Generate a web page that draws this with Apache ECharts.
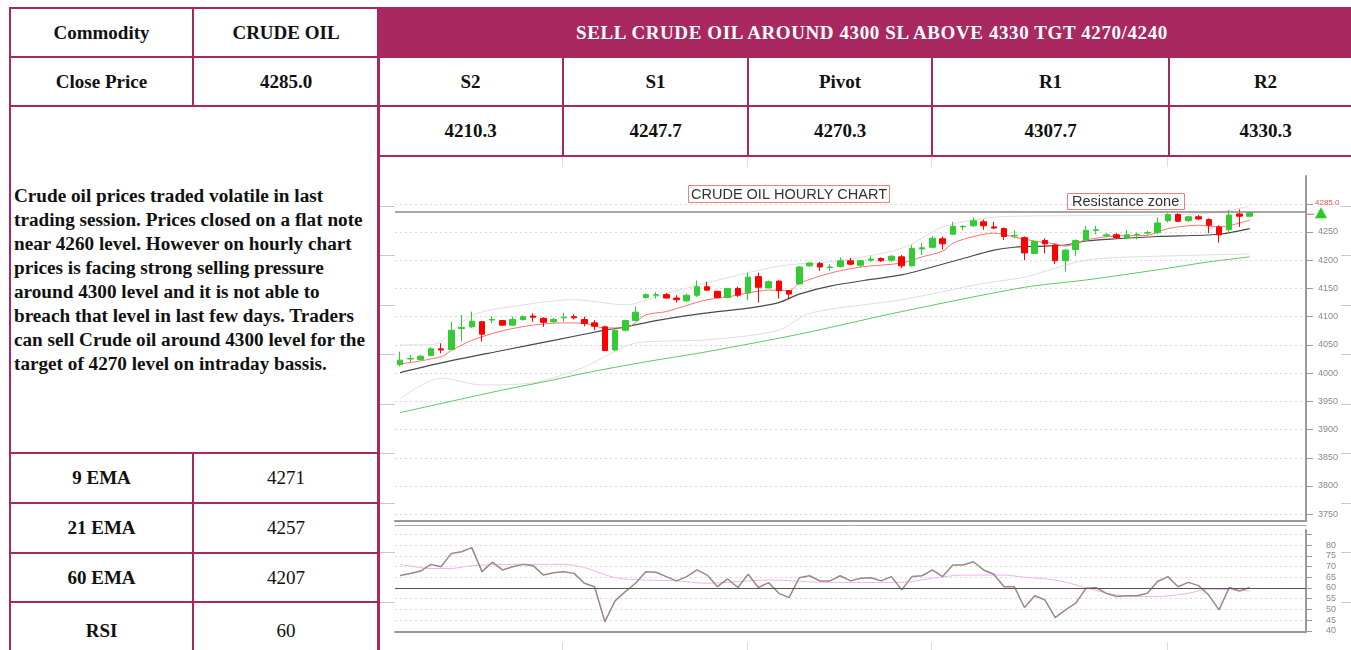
<!DOCTYPE html>
<html>
<head>
<meta charset="utf-8">
<script src="https://cdn.jsdelivr.net/npm/echarts@6/dist/echarts.min.js"></script>
<style>
html, body { margin: 0; padding: 0; width: 1351px; height: 650px; overflow: hidden; background: #fff; }
.c {
    position: absolute; box-sizing: border-box; border: 2px solid #a8275e;
    display: flex; align-items: center; justify-content: center;
    font-family: "Liberation Serif", serif; font-weight: bold; font-size: 19px; color: #111;
}
.n { font-weight: normal; }
.hd { background: #aa2860; color: #fff; letter-spacing: 0.6px; }
.txt { justify-content: flex-start; padding-left: 3px; line-height: 24px; font-size: 19.2px; }
.mk { position: absolute; background: #c8c8c8; }
#chart { position: absolute; left: 379px; top: 157px; width: 972px; height: 493px; }
</style>
</head>
<body>
<!-- tableau -->
<div class="c" style="left:9px;top:7px;width:185px;height:51px">Commodity</div>
<div class="c" style="left:192px;top:7px;width:188px;height:51px">CRUDE OIL</div>
<div class="c hd" style="left:377px;top:7px;width:990px;height:51px">SELL CRUDE OIL AROUND 4300 SL ABOVE 4330 TGT 4270/4240</div>

<div class="c" style="left:9px;top:56px;width:185px;height:51px">Close Price</div>
<div class="c" style="left:192px;top:56px;width:188px;height:51px">4285.0</div>
<div class="c" style="left:377px;top:56px;width:187px;height:51px">S2</div>
<div class="c" style="left:562px;top:56px;width:187px;height:51px">S1</div>
<div class="c" style="left:747px;top:56px;width:186px;height:51px">Pivot</div>
<div class="c" style="left:931px;top:56px;width:239px;height:51px">R1</div>
<div class="c" style="left:1168px;top:56px;width:195px;height:51px">R2</div>

<div class="c" style="left:377px;top:105px;width:187px;height:52px">4210.3</div>
<div class="c" style="left:562px;top:105px;width:187px;height:52px">4247.7</div>
<div class="c" style="left:747px;top:105px;width:186px;height:52px">4270.3</div>
<div class="c" style="left:931px;top:105px;width:239px;height:52px">4307.7</div>
<div class="c" style="left:1168px;top:105px;width:195px;height:52px">4330.3</div>

<div class="c txt" style="left:9px;top:105px;width:371px;height:349px">
<div>Crude oil prices traded volatile in last<br>trading session. Prices closed on a flat note<br>near 4260 level. However on hourly chart<br>prices is facing strong selling pressure<br>around 4300 level and it is not able to<br>breach that level in last few days. Traders<br>can sell Crude oil around 4300 level for the<br>target of 4270 level on intraday bassis.</div>
</div>

<div class="c" style="left:9px;top:452px;width:185px;height:52px">9 EMA</div>
<div class="c n" style="left:192px;top:452px;width:188px;height:52px">4271</div>
<div class="c" style="left:9px;top:502px;width:185px;height:52px">21 EMA</div>
<div class="c n" style="left:192px;top:502px;width:188px;height:52px">4257</div>
<div class="c" style="left:9px;top:552px;width:185px;height:51px">60 EMA</div>
<div class="c n" style="left:192px;top:552px;width:188px;height:51px">4207</div>
<div class="c" style="left:9px;top:601px;width:185px;height:60px">RSI</div>
<div class="c n" style="left:192px;top:601px;width:188px;height:60px">60</div>

<div class="c" style="left:377px;top:155px;width:990px;height:510px"></div>

<div id="chart"></div>

<script>
// bougies horaires
const openP  = [4015,4025,4024,4031,4043,4042,4079,4082,4091,4094,4093,4085,4095,4101,4097,4091,4098,4100,4095,4089,
                4082,4041,4076,4093,4134,4138,4139,4133,4128,4138,4153,4145,4134,4150,4142,4171,4151,4163,4146,4158,
                4190,4194,4187,4189,4199,4191,4200,4203,4200,4206,4190,4220,4223,4238,4246,4259,4261,4268,4259,4256,
                4243,4240,4212,4235,4227,4199,4219,4236,4253,4243,4245,4240,4245,4248,4249,4270,4281,4270,4277,4272,
                4259,4254,4282,4278];
const closeP = [4023,4026,4030,4043,4041,4076,4081,4092,4069,4095,4085,4095,4100,4099,4090,4095,4099,4098,4088,4083,
                4040,4076,4093,4108,4139,4139,4133,4130,4138,4153,4147,4134,4150,4138,4170,4152,4162,4146,4140,4188,
                4195,4188,4188,4199,4193,4199,4202,4199,4207,4190,4221,4222,4239,4229,4260,4260,4270,4261,4257,4242,
                4244,4213,4233,4229,4199,4218,4235,4253,4254,4245,4240,4245,4246,4249,4266,4281,4269,4277,4273,4262,
                4245,4280,4278,4284];
const lowP   = [4012,4020,4022,4030,4035,4041,4056,4080,4056,4088,4084,4084,4093,4091,4082,4089,4091,4095,4083,4076,
                4040,4040,4074,4092,4132,4132,4132,4125,4126,4135,4146,4133,4133,4135,4129,4125,4150,4132,4131,4157,
                4188,4181,4181,4187,4191,4187,4197,4197,4197,4186,4189,4209,4221,4219,4245,4253,4259,4254,4255,4236,
                4239,4200,4211,4212,4193,4180,4207,4235,4246,4242,4238,4238,4237,4245,4246,4267,4268,4268,4271,4248,
                4231,4250,4259,4276];
const highP  = [4038,4032,4032,4046,4053,4091,4103,4109,4092,4101,4094,4100,4102,4106,4099,4098,4107,4104,4100,4094,
                4084,4079,4095,4118,4141,4144,4142,4138,4141,4164,4162,4145,4151,4153,4178,4178,4164,4164,4147,4190,
                4197,4197,4193,4205,4204,4200,4207,4205,4209,4209,4227,4230,4243,4242,4268,4262,4276,4272,4268,4258,
                4253,4242,4234,4239,4229,4219,4237,4261,4261,4248,4248,4254,4249,4252,4276,4283,4283,4278,4280,4274,
                4262,4289,4290,4285];
const categories = openP.map((_, i) => 'H' + (i + 1));

// moyennes et bandes, points [index bougie, valeur]
const ema9 = [[0,4016],[4,4029],[5,4040],[7,4058],[10,4075],[13,4085],[16,4089],[18,4088],[20,4080],[22,4080],
              [24,4103],[26,4109],[28,4120],[30,4130],[32,4135],[34,4142],[36,4147],[38,4146],[39,4159],[42,4177],
              [45,4188],[49,4195],[51,4206],[53,4216],[54,4230],[56,4242],[58,4248],[60,4241],[62,4234],[64,4229],
              [65,4225],[67,4236],[70,4243],[73,4244],[75,4256],[78,4262],[80,4259],[83,4271]];
const ema21 = [[0,4001],[5,4022],[10,4040],[15,4058],[20,4076],[22,4082],[25,4093],[28,4102],[31,4109],[34,4115],
               [37,4125],[39,4140],[42,4154],[46,4166],[49,4174],[52,4188],[55,4203],[58,4218],[60,4223],[63,4225],
               [65,4227],[67,4234],[70,4238],[74,4242],[80,4246],[83,4256]];
const ema60 = [[0,3930],[10,3970],[15,3988],[18,4000],[24,4020],[30,4038],[39,4069],[49,4109],[61,4152],[67,4165],
               [74,4183],[79,4197],[83,4206]];
const bandUp = [[0,4050],[3,4050],[7,4102],[11,4118],[17,4130],[22,4121],[26,4141],[34,4178],[38,4192],[42,4197],
                [49,4221],[53,4259],[57,4274],[60,4278],[74,4280],[80,4285],[83,4296]];
const bandLow = [[0,3955],[4,3991],[8,3979],[13,3983],[18,4011],[23,4053],[30,4059],[37,4076],[40,4106],[49,4130],
                 [57,4159],[61,4170],[67,4200],[74,4207],[83,4211]];

// RSI
const rsi = [65.8,66.7,67.9,71,69.9,76.1,76.9,78.8,67.6,72,68.4,69.9,71,70.4,66,67.1,67.6,66.8,62.2,60.6,
             44.3,54,58.3,62.2,67.6,67.3,65.3,63.3,65.3,68.4,66,60.6,64.2,60.2,66.4,60.2,62.5,57.5,55.5,64.8,
             65.7,63.3,63.3,65.7,63.3,64.5,64.8,63.3,65.3,59.1,65.3,65.7,68.4,65.3,70.7,70.7,72.2,68.4,66.4,60.6,
             60.6,50.9,56.4,54.4,46.2,49.8,52.9,59.8,60.2,57.5,56,56.4,56.4,57.5,63,65.3,60.6,62.6,61.1,56.7,
             49.8,60.2,58.6,60.2];
const rsiSignal = [[0,71],[3,69.1],[5,69.1],[7,70.4],[11,71],[16,71],[18,69.5],[21,64.8],[24,63.7],[27,63.3],
                   [30,62.2],[36,63.7],[42,62.6],[49,62.6],[52,64.5],[55,66],[59,66],[61,65],[64,63.7],[67,60.2],
                   [70,56.7],[74,56],[77,57.5],[79,59.5],[83,58.6]];

const priceTicks = [3750,3800,3850,3900,3950,4000,4050,4100,4150,4200,4250,4300];
const priceLabels = [3750,3800,3850,3900,3950,4000,4050,4100,4150,4200,4250];
const rsiTicks = [40,45,50,55,60,65,70,75,80,85];
const rsiLabels = [40,45,50,55,60,65,70,75,80];
const lastClose = 4285.0;
const rsiLevel = 60;

const chart = echarts.init(document.getElementById('chart'));

const lineSerie = (data, color, width) => ({
    type: 'line', data: data, xAxisIndex: 0, yAxisIndex: 0, symbol: 'none', smooth: 0.3,
    lineStyle: { color: color, width: width }, z: 2, silent: true
});

const boxText = { fontFamily: 'Liberation Sans', fontSize: 14.5, fontWeight: 'normal', color: '#333' };

const option = {
    animation: false,
    title: [
        { text: 'CRUDE OIL HOURLY CHART', left: 309, top: 28, padding: [2, 3, 1, 3],
          borderColor: '#f08080', borderWidth: 1, textStyle: boxText },
        { text: 'Resistance zone', left: 688, top: 36, padding: [1, 6, 1, 5],
          borderColor: '#f08080', borderWidth: 1, textStyle: boxText }
    ],
    grid: [
        { left: 16, right: 45, top: 19, height: 345 },
        { left: 16, right: 45, top: 373, height: 102 }
    ],
    xAxis: [
        { type: 'category', gridIndex: 0, data: categories, max: 88,
          axisLine: { lineStyle: { color: '#999', width: 2 } },
          axisTick: { show: false }, axisLabel: { show: false }, splitLine: { show: false } },
        { type: 'category', gridIndex: 1, data: categories, max: 88,
          axisLine: { lineStyle: { color: '#999', width: 2 } },
          axisTick: { show: false }, axisLabel: { show: false } },
        { type: 'category', gridIndex: 1, data: categories, max: 88, offset: 5,
          axisLine: { lineStyle: { color: '#aaa', width: 1 } },
          axisTick: { show: false }, axisLabel: { show: false } }
    ],
    yAxis: [
        { gridIndex: 0, position: 'right', min: 3738, max: 4349.2,
          axisLine: { show: true, lineStyle: { color: '#999', width: 2 } },
          axisTick: { show: true, length: 7, lineStyle: { color: '#999' }, customValues: priceTicks },
          axisLabel: { customValues: priceLabels, color: '#888', fontSize: 9, margin: 12,
                       fontFamily: 'Liberation Sans', formatter: v => String(v) },
          splitLine: { show: true, lineStyle: { color: '#d8d8d8', type: [2, 3] } } },
        { gridIndex: 1, position: 'right', min: 39.5, max: 87,
          axisLine: { show: true, lineStyle: { color: '#999', width: 2 } },
          axisTick: { show: true, length: 6, lineStyle: { color: '#999' }, customValues: rsiTicks },
          axisLabel: { customValues: rsiLabels, color: '#888', fontSize: 9, margin: 20,
                       fontFamily: 'Liberation Sans', formatter: v => String(v) },
          splitLine: { show: true, lineStyle: { color: '#d8d8d8', type: [2, 3] } } }
    ],
    series: [
        lineSerie(bandUp, '#dedede', 1),
        lineSerie(bandLow, '#dedede', 1),
        lineSerie(ema60, '#5ec95e', 1),
        lineSerie(ema21, '#4a4a4a', 1.2),
        lineSerie(ema9, '#ff7070', 1),
        {
            type: 'candlestick', xAxisIndex: 0, yAxisIndex: 0, z: 3, barWidth: 6,
            data: openP.map((o, i) => [o, closeP[i], lowP[i], highP[i]]),
            itemStyle: { color: '#33cc33', color0: '#ff0000', borderColor: '#33cc33', borderColor0: '#ff0000', borderWidth: 1 },
            markLine: {
                symbol: 'none', silent: true, label: { show: false },
                lineStyle: { color: '#888', type: 'solid', width: 1.5 },
                data: [{ yAxis: lastClose }]
            }
        },
        {
            type: 'line', xAxisIndex: 1, yAxisIndex: 1, data: rsi, symbol: 'none',
            lineStyle: { color: '#9e8686', width: 1.5 }, z: 3,
            markLine: {
                symbol: 'none', silent: true, label: { show: false },
                lineStyle: { color: '#555', type: 'solid', width: 1 },
                data: [{ yAxis: rsiLevel }]
            }
        },
        {
            type: 'line', xAxisIndex: 1, yAxisIndex: 1, data: rsiSignal, symbol: 'none', smooth: 0.3,
            lineStyle: { color: '#f0b0f0', width: 1 }, z: 2
        }
    ]
};

chart.setOption(option);

// étiquette et triangle vert du dernier cours
const yLast = chart.convertToPixel({ yAxisIndex: 0 }, lastClose);
const xAxisRight = 972 - 45;
chart.setOption({
    graphic: [
        { type: 'text', silent: true, x: xAxisRight + 9, y: yLast - 9,
          style: { text: lastClose.toFixed(1), fill: '#f05050', font: '8px "Liberation Sans"', verticalAlign: 'middle' } },
        { type: 'line', silent: true,
          shape: { x1: xAxisRight + 1, y1: yLast + 2, x2: xAxisRight + 8, y2: yLast + 2 },
          style: { stroke: '#f05050', lineWidth: 1 } },
        { type: 'polygon', silent: true,
          shape: { points: [[xAxisRight + 15, yLast - 5], [xAxisRight + 9, yLast + 6], [xAxisRight + 21, yLast + 6]] },
          style: { fill: '#22cc22' } }
    ]
});

// petits traits gris autour du graphique
const marks = [206, 255, 305, 354, 404, 453, 503, 552, 602];
marks.forEach(y => {
    [[380, 15], [1341, 10]].forEach(([x, w]) => {
        const d = document.createElement('div');
        d.className = 'mk';
        d.style.cssText = `left:${x}px;top:${y}px;width:${w}px;height:1px;`;
        document.body.appendChild(d);
    });
});
[562, 747, 931, 1167].forEach(x => {
    [[157, 10], [642, 8]].forEach(([y, h]) => {
        const d = document.createElement('div');
        d.className = 'mk';
        d.style.cssText = `left:${x}px;top:${y}px;width:1px;height:${h}px;background:#ddd;`;
        document.body.appendChild(d);
    });
});
</script>
</body>
</html>
